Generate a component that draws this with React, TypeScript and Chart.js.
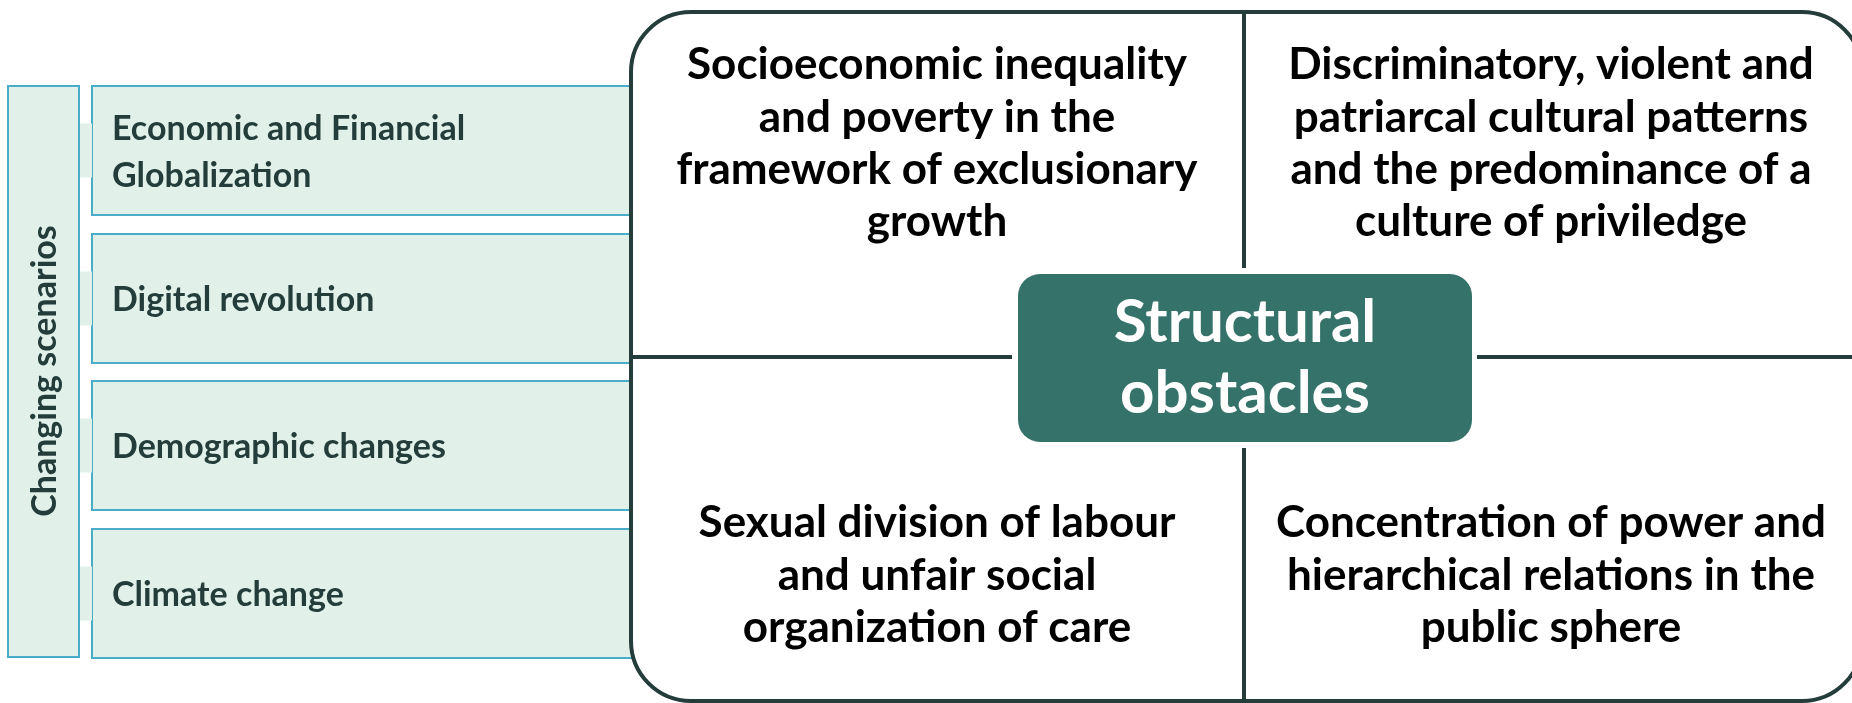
import React, { useEffect, useRef } from "react";
import { Chart, registerables } from "chart.js";

Chart.register(...registerables);

// ---- content ----
const SIDE_TITLE = "Changing scenarios";
const SCENARIOS: string[][] = [
  ["Economic and Financial", "Globalization"],
  ["Digital revolution"],
  ["Demographic changes"],
  ["Climate change"],
];
const CENTER_TITLE = ["Structural", "obstacles"];
const OBSTACLES: string[][] = [
  ["Socioeconomic inequality", "and poverty in the", "framework of exclusionary", "growth"],
  ["Discriminatory, violent and", "patriarcal cultural patterns", "and the predominance of a", "culture of priviledge"],
  ["Sexual division of labour", "and unfair social", "organization of care"],
  ["Concentration of power and", "hierarchical relations in the", "public sphere"],
];

// ---- layout (in scale units, 1 unit = 1 px) ----
const W = 1852;
const H = 703;
const ROW_TOPS = [86, 234, 381, 529];
const ROW_H = 129;
const OB_CENTERS_X = [937, 1551, 937, 1551];
const OB_LINES_Y = [
  [65, 118, 170, 222],
  [65, 118, 170, 222],
  [523, 576, 628],
  [523, 576, 628],
];

const FONT = "Lato, 'Open Sans', sans-serif";
const DARK = "#243d3a";
const TEAL = "#35736a";
const LIGHT = "#e1f1ea";
const BLUE = "#4aadc7";

function rr(ctx: CanvasRenderingContext2D, x: number, y: number, w: number, h: number, r: number) {
  ctx.beginPath();
  ctx.moveTo(x + r, y);
  ctx.lineTo(x + w - r, y);
  ctx.arcTo(x + w, y, x + w, y + r, r);
  ctx.lineTo(x + w, y + h - r);
  ctx.arcTo(x + w, y + h, x + w - r, y + h, r);
  ctx.lineTo(x + r, y + h);
  ctx.arcTo(x, y + h, x, y + h - r, r);
  ctx.lineTo(x, y + r);
  ctx.arcTo(x, y, x + r, y, r);
  ctx.closePath();
}

const diagramPlugin = {
  id: "diagram",
  afterDraw(chart: any) {
    const ctx: CanvasRenderingContext2D = chart.ctx;
    const xs = chart.scales.x;
    const ys = chart.scales.y;
    const X = (v: number) => xs.getPixelForValue(v);
    const Y = (v: number) => ys.getPixelForValue(v);
    ctx.save();

    // row boxes
    ROW_TOPS.forEach((t, i) => {
      ctx.fillStyle = LIGHT;
      ctx.fillRect(X(92), Y(t), X(640) - X(92), Y(t + ROW_H) - Y(t));
      ctx.strokeStyle = BLUE;
      ctx.lineWidth = 2;
      ctx.strokeRect(X(92), Y(t), X(640) - X(92), Y(t + ROW_H) - Y(t));
      // connector stub
      ctx.fillStyle = LIGHT;
      const cy = t + ROW_H / 2;
      ctx.fillRect(X(79), Y(cy - 27), X(92) - X(79), Y(cy + 27) - Y(cy - 27));
      // label
      ctx.fillStyle = DARK;
      ctx.font = `bold 34px ${FONT}`;
      ctx.textAlign = "left";
      ctx.textBaseline = "middle";
      const lines = SCENARIOS[i];
      const lh = 47;
      lines.forEach((ln, k) => {
        const y = cy + (k - (lines.length - 1) / 2) * lh + 2;
        ctx.fillText(ln, X(112), Y(y));
      });
    });

    // vertical side box
    ctx.fillStyle = LIGHT;
    ctx.fillRect(X(8), Y(86), X(79) - X(8), Y(657) - Y(86));
    ctx.strokeStyle = BLUE;
    ctx.lineWidth = 2;
    ctx.strokeRect(X(8), Y(86), X(79) - X(8), Y(657) - Y(86));
    ctx.save();
    ctx.translate(X(45), Y(371));
    ctx.rotate(-Math.PI / 2);
    ctx.fillStyle = DARK;
    ctx.font = `bold 34px ${FONT}`;
    ctx.textAlign = "center";
    ctx.textBaseline = "middle";
    ctx.fillText(SIDE_TITLE, 0, 0);
    ctx.restore();

    // big rounded panel
    rr(ctx, X(631), Y(12), X(1862) - X(631), Y(701) - Y(12), 60);
    ctx.fillStyle = "#ffffff";
    ctx.fill();
    ctx.strokeStyle = DARK;
    ctx.lineWidth = 4;
    ctx.stroke();

    // dividers
    ctx.lineWidth = 4;
    ctx.beginPath();
    ctx.moveTo(X(1244), Y(12));
    ctx.lineTo(X(1244), Y(268));
    ctx.moveTo(X(1244), Y(448));
    ctx.lineTo(X(1244), Y(701));
    ctx.moveTo(X(631), Y(357));
    ctx.lineTo(X(1012), Y(357));
    ctx.moveTo(X(1477), Y(357));
    ctx.lineTo(X(1862), Y(357));
    ctx.stroke();

    // centre box
    rr(ctx, X(1018), Y(274), X(1472) - X(1018), Y(442) - Y(274), 22);
    ctx.fillStyle = TEAL;
    ctx.fill();
    ctx.fillStyle = "#ffffff";
    ctx.font = `bold 60px ${FONT}`;
    ctx.textAlign = "center";
    ctx.textBaseline = "middle";
    ctx.fillText(CENTER_TITLE[0], X(1245), Y(323));
    ctx.fillText(CENTER_TITLE[1], X(1245), Y(394));

    // obstacle texts
    ctx.fillStyle = "#000000";
    ctx.font = `bold 44px ${FONT}`;
    OBSTACLES.forEach((lines, i) => {
      lines.forEach((ln, k) => {
        ctx.fillText(ln, X(OB_CENTERS_X[i]), Y(OB_LINES_Y[i][k]));
      });
    });

    ctx.restore();
  },
};

export default function App() {
  const ref = useRef<HTMLCanvasElement>(null);
  useEffect(() => {
    document.body.style.margin = "0";
    const chart = new Chart(ref.current!, {
      type: "scatter",
      data: { datasets: [{ data: [], pointRadius: 0 }] },
      options: {
        animation: false,
        responsive: false,
        maintainAspectRatio: false,
        layout: { padding: 0 },
        plugins: { legend: { display: false }, tooltip: { enabled: false } },
        scales: {
          x: { type: "linear", min: 0, max: W, display: false },
          y: { type: "linear", min: 0, max: H, reverse: true, display: false },
        },
      },
      plugins: [diagramPlugin],
    });
    return () => chart.destroy();
  }, []);
  return (
    <div style={{ width: W, height: H }}>
      <canvas ref={ref} width={W} height={H} style={{ display: "block" }} />
    </div>
  );
}
